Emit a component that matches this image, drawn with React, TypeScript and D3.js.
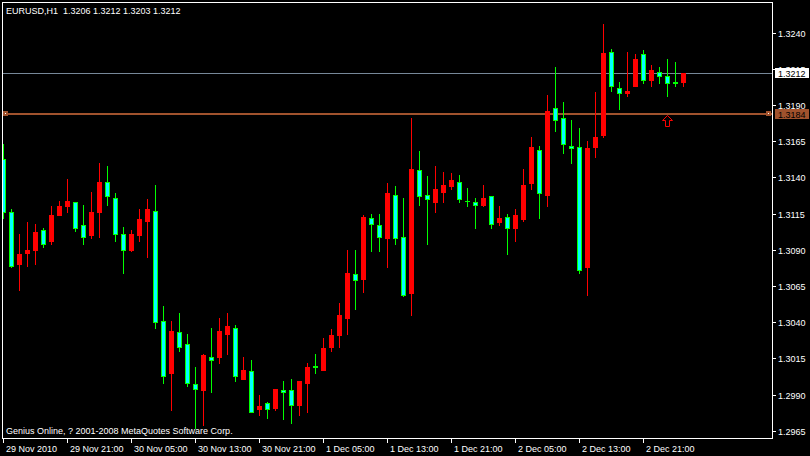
import React, { useEffect, useRef } from "react";
import * as d3 from "d3";

// EURUSD H1 candles, 29 Nov 2010 13:00 .. 3 Dec 2010 02:00 (red = up, aqua = down)

const opens = [
  1.3153, 1.3116, 1.3080, 1.3088, 1.3090, 1.3104, 1.3096, 1.3114, 1.3120, 1.3123,
  1.3107, 1.3100, 1.3116, 1.3137, 1.3126, 1.3101, 1.3090, 1.3100, 1.3110, 1.3117,
  1.3041, 1.3005, 1.3033, 1.3025, 1.2997, 1.2993, 1.3016, 1.3016, 1.3032, 1.3036,
  1.3001, 1.3006, 1.2980, 1.2984, 1.2981, 1.2993, 1.2993, 1.2983, 1.2998, 1.3010,
  1.3007, 1.3023, 1.3031, 1.3043, 1.3073, 1.3070, 1.3112, 1.3107, 1.3098, 1.3128,
  1.3099, 1.3060, 1.3145, 1.3128, 1.3123, 1.3130, 1.3134, 1.3137, 1.3124, 1.3123,
  1.3121, 1.3127, 1.3109, 1.3113, 1.3105, 1.3111, 1.3136, 1.3159, 1.3128, 1.3188,
  1.3181, 1.3162, 1.3161, 1.3078, 1.3161, 1.3169, 1.3227, 1.3202, 1.3198, 1.3203,
  1.3225, 1.3207, 1.3213, 1.3210, 1.3206, 1.3206,
];
const highs = [
  1.3163, 1.3118, 1.3101, 1.3109, 1.3108, 1.3105, 1.3120, 1.3124, 1.3139, 1.3123,
  1.3121, 1.3130, 1.3150, 1.3148, 1.3129, 1.3106, 1.3104, 1.3118, 1.3125, 1.3135,
  1.3051, 1.3041, 1.3046, 1.3032, 1.3009, 1.3018, 1.3036, 1.3043, 1.3046, 1.3038,
  1.3016, 1.3014, 1.2990, 1.2985, 1.2994, 1.2999, 1.3001, 1.2999, 1.3012, 1.3018,
  1.3029, 1.3035, 1.3053, 1.3090, 1.3090, 1.3114, 1.3115, 1.3115, 1.3136, 1.3134,
  1.3126, 1.3181, 1.3158, 1.3141, 1.3148, 1.3144, 1.3143, 1.3142, 1.3133, 1.3126,
  1.3135, 1.3127, 1.3120, 1.3115, 1.3118, 1.3146, 1.3168, 1.3162, 1.3197, 1.3216,
  1.3192, 1.3180, 1.3174, 1.3165, 1.3199, 1.3246, 1.3229, 1.3206, 1.3227, 1.3225,
  1.3228, 1.3218, 1.3216, 1.3222, 1.3220, 1.3212,
];
const lows = [
  1.3112, 1.3078, 1.3062, 1.3079, 1.3080, 1.3092, 1.3094, 1.3114, 1.3116, 1.3103,
  1.3094, 1.3098, 1.3099, 1.3121, 1.3096, 1.3074, 1.3089, 1.3096, 1.3085, 1.3036,
  1.2998, 1.2979, 1.3020, 1.2996, 1.2967, 1.2969, 1.2992, 1.3012, 1.3018, 1.2999,
  1.3001, 1.2978, 1.2976, 1.2974, 1.2979, 1.2973, 1.2970, 1.2976, 1.2978, 1.3005,
  1.3007, 1.3020, 1.3023, 1.3032, 1.3049, 1.3061, 1.3089, 1.3089, 1.3078, 1.3094,
  1.3058, 1.3045, 1.3121, 1.3094, 1.3116, 1.3123, 1.3132, 1.3123, 1.3120, 1.3105,
  1.3120, 1.3105, 1.3107, 1.3087, 1.3096, 1.3110, 1.3132, 1.3112, 1.3120, 1.3172,
  1.3157, 1.3150, 1.3074, 1.3059, 1.3154, 1.3168, 1.3200, 1.3187, 1.3196, 1.3203,
  1.3205, 1.3203, 1.3205, 1.3196, 1.3203, 1.3203,
];
const closes = [
  1.3116, 1.3079, 1.3087, 1.3090, 1.3102, 1.3094, 1.3114, 1.3120, 1.3124, 1.3105,
  1.3099, 1.3116, 1.3137, 1.3127, 1.3101, 1.3090, 1.3101, 1.3111, 1.3118, 1.3040,
  1.3003, 1.3034, 1.3023, 1.2998, 1.2994, 1.3017, 1.3014, 1.3034, 1.3037, 1.3003,
  1.3007, 1.2978, 1.2982, 1.2980, 1.2994, 1.2992, 1.2983, 1.2999, 1.3009, 1.3009,
  1.3022, 1.3031, 1.3045, 1.3074, 1.3069, 1.3113, 1.3108, 1.3099, 1.3129, 1.3098,
  1.3059, 1.3146, 1.3127, 1.3125, 1.3132, 1.3135, 1.3138, 1.3125, 1.3124, 1.3121,
  1.3126, 1.3108, 1.3112, 1.3105, 1.3114, 1.3135, 1.3161, 1.3129, 1.3186, 1.3180,
  1.3163, 1.3160, 1.3076, 1.3160, 1.3168, 1.3226, 1.3203, 1.3198, 1.3200, 1.3222,
  1.3207, 1.3214, 1.3210, 1.3205, 1.3205, 1.3212,
];

const priceTicks = [1.324, 1.3215, 1.319, 1.3165, 1.314, 1.3115, 1.309, 1.3065, 1.304, 1.3015, 1.299, 1.2965];
const timeTickBars = [0, 8, 16, 24, 32, 40, 48, 56, 64, 72, 80];
const timeTickLabels = [
  "29 Nov 2010", "29 Nov 21:00", "30 Nov 05:00", "30 Nov 13:00", "30 Nov 21:00",
  "1 Dec 05:00", "1 Dec 13:00", "1 Dec 21:00", "2 Dec 05:00", "2 Dec 13:00", "2 Dec 21:00",
];

const bidPrice = 1.3212;
const hLinePrice = 1.3184;
const arrowBar = 83;
const arrowPrice = 1.3183;
const title = "EURUSD,H1  1.3206 1.3212 1.3203 1.3212";
const copyright = "Genius Online, ? 2001-2008 MetaQuotes Software Corp.";

const W = 810;
const H = 456;
const FONT = "'Liberation Sans', Arial, sans-serif";

const App = () => {
  const svgRef = useRef<SVGSVGElement>(null);

  useEffect(() => {
    const svg = d3.select(svgRef.current);
    svg.selectAll("*").remove();

    const left = 2, right = 772, top = 2, bottom = 438;

    const x = d3.scaleLinear().domain([0, opens.length - 1]).range([3, 3 + 8 * (opens.length - 1)]);
    const y = d3.scaleLinear().domain([1.2965, 1.324]).range([430.7, 32.7]);
    const py = (p: number) => Math.round(y(p));

    svg.append("rect").attr("width", W).attr("height", H).attr("fill", "#000");

    svg.append("defs").append("clipPath").attr("id", "plot")
      .append("rect").attr("x", left + 1).attr("y", top + 1)
      .attr("width", right - left - 1).attr("height", bottom - top - 1);

    // bid line and horizontal line
    svg.append("rect").attr("x", left).attr("y", py(bidPrice)).attr("width", right - left).attr("height", 1)
      .attr("fill", "#778899");
    svg.append("rect").attr("x", left).attr("y", py(hLinePrice) - 1).attr("width", right - left).attr("height", 2)
      .attr("fill", "#a0522d");

    const g = svg.append("g").attr("clip-path", "url(#plot)").attr("shape-rendering", "crispEdges");

    opens.forEach((o, i) => {
      const c = closes[i];
      const cx = Math.round(x(i));
      const up = c > o;
      const wickCol = up ? "#ff0000" : "#00ff00";
      const hi = py(highs[i]);
      const lo = py(lows[i]);
      g.append("rect").attr("x", cx).attr("y", hi).attr("width", 1).attr("height", lo - hi + 1).attr("fill", wickCol);
      const bt = py(Math.max(o, c));
      const bb = py(Math.min(o, c));
      const bh = bb - bt + 1;
      if (up) {
        g.append("rect").attr("x", cx - 2).attr("y", bt).attr("width", 5).attr("height", bh).attr("fill", "#ff0000");
      } else {
        g.append("rect").attr("x", cx - 2).attr("y", bt).attr("width", 5).attr("height", bh).attr("fill", "#00ff00");
        if (bh > 2) {
          g.append("rect").attr("x", cx - 1).attr("y", bt + 1).attr("width", 3).attr("height", bh - 2).attr("fill", "#00ffff");
        }
      }
    });

    // arrow object
    const ax = Math.round(x(arrowBar)) + 0.5;
    const ay = py(arrowPrice) + 0.5;
    svg.append("path")
      .attr("d", `M${ax},${ay} L${ax + 5},${ay + 5} L${ax + 2},${ay + 5} L${ax + 2},${ay + 11} L${ax - 2},${ay + 11} L${ax - 2},${ay + 5} L${ax - 5},${ay + 5} Z`)
      .attr("fill", "none").attr("stroke", "#ff0000").attr("stroke-width", 1);

    // frame
    svg.append("rect").attr("x", left + 0.5).attr("y", top + 0.5)
      .attr("width", right - left).attr("height", bottom - top)
      .attr("fill", "none").attr("stroke", "#fff").attr("stroke-width", 1);

    // price axis
    const pa = svg.append("g");
    priceTicks.forEach(p => {
      const ty = py(p);
      pa.append("rect").attr("x", right + 1).attr("y", ty).attr("width", 3).attr("height", 1).attr("fill", "#fff");
      pa.append("text").attr("x", 778).attr("y", ty + 3.5).attr("fill", "#fff")
        .attr("font-family", FONT).attr("font-size", 9).text(d3.format(".4f")(p));
    });

    // price labels
    const tagBid = py(bidPrice);
    svg.append("rect").attr("x", 775).attr("y", tagBid - 5).attr("width", 34).attr("height", 10).attr("fill", "#fff");
    svg.append("text").attr("x", 778).attr("y", tagBid + 3.5).attr("fill", "#000")
      .attr("font-family", FONT).attr("font-size", 9).text(d3.format(".4f")(bidPrice));
    const tagH = py(hLinePrice);
    svg.append("rect").attr("x", 775).attr("y", tagH - 5).attr("width", 34).attr("height", 10).attr("fill", "#a0522d");
    svg.append("text").attr("x", 778).attr("y", tagH + 3.5).attr("fill", "#000")
      .attr("font-family", FONT).attr("font-size", 9).text(d3.format(".4f")(hLinePrice));

    // selection markers on the horizontal line
    [left + 1, right - 6].forEach(mx => {
      svg.append("rect").attr("x", mx).attr("y", tagH - 3).attr("width", 5).attr("height", 5).attr("fill", "#a0522d");
      svg.append("rect").attr("x", mx + 2).attr("y", tagH - 1).attr("width", 1).attr("height", 1).attr("fill", "#fff");
    });

    // time axis
    const ta = svg.append("g");
    timeTickBars.forEach((b, k) => {
      const tx = Math.round(x(b));
      ta.append("rect").attr("x", tx).attr("y", bottom + 1).attr("width", 1).attr("height", 4).attr("fill", "#fff");
      ta.append("text").attr("x", tx + 3).attr("y", 451.5).attr("fill", "#fff")
        .attr("font-family", FONT).attr("font-size", 9).text(timeTickLabels[k]);
    });

    svg.append("text").attr("x", 6).attr("y", 14).attr("fill", "#fff")
      .attr("font-family", FONT).attr("font-size", 9).attr("xml:space", "preserve")
      .style("white-space", "pre").text(title);
    svg.append("text").attr("x", 6).attr("y", 434).attr("fill", "#fff")
      .attr("font-family", FONT).attr("font-size", 9).text(copyright);
  }, []);

  return (
    <svg ref={svgRef} width={W} height={H}
      style={{ position: "absolute", left: 0, top: 0, display: "block" }} />
  );
};

export default App;
